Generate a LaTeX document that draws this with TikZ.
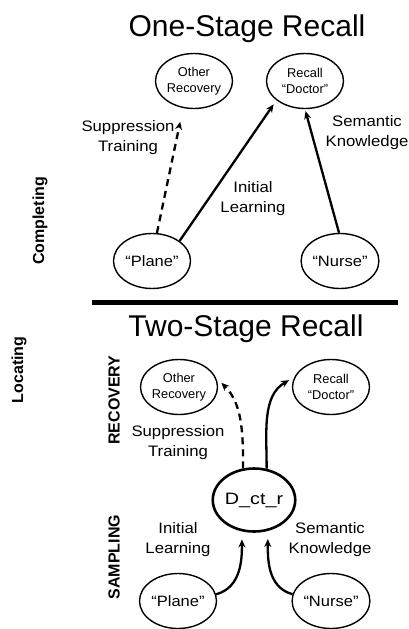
\documentclass[tikz,border=0pt]{standalone}
\usepackage{fontspec}
\setmainfont{Liberation Sans}
\newfontfamily\lblfont[FakeStretch=1.1]{Liberation Sans}
\newfontfamily\ctrfont[FakeStretch=1.2]{Liberation Sans}
\usetikzlibrary{shapes.geometric,arrows.meta}
\tikzset{
  ell/.style={ellipse, draw, line width=1.4pt, inner sep=0pt, minimum width=77pt, minimum height=55pt, align=center},
  smalltxt/.style={font=\fontsize{12.8}{16}\selectfont},
  bigtxt/.style={font=\lblfont\fontsize{15}{19}\selectfont},
  lbl/.style={font=\lblfont\fontsize{15.2}{20}\selectfont, align=center},
  ttl/.style={font=\fontsize{30}{36}\selectfont},
  side/.style={font=\bfseries\fontsize{16}{19}\selectfont, rotate=90},
  arr/.style={line width=2.3pt, -{Stealth[length=8pt,width=7pt]}},
  darr/.style={arr, dash pattern=on 7pt off 5pt},
}
\begin{document}
\begin{tikzpicture}[x=1pt,y=-1pt]
\useasboundingbox (0,0) rectangle (408,629);
% titles
\node[ttl] (t1) at (247,29) {One-Stage Recall};
\node[ttl] (t2) at (246,329) {Two-Stage Recall};
% side labels
\node[side] (comp) at (40,221) {Completing};
\node[side] (loc) at (19,370) {Locating};
\node[side] (rec) at (114,400) {RECOVERY};
\node[side] (samp) at (114,557) {SAMPLING};
% separator
\coordinate (sepL) at (92,302);
\coordinate (sepR) at (398,302);
\draw[line width=5pt] (sepL) -- (sepR);
% top ellipses
\node[ell, smalltxt] (oA) at (194,81) {Other\\Recovery};
\node[ell, smalltxt] (dA) at (305,81) {Recall\\“Doctor”};
\node[ell, bigtxt] (pA) at (152,261) {“Plane”};
\node[ell, bigtxt] (nA) at (340,261) {“Nurse”};
% top labels
\node[lbl] (stA) at (128,138) {Suppression\\Training};
\node[lbl] (ilA) at (253,199) {Initial\\Learning};
\node[lbl] (skA) at (367,133) {Semantic\\Knowledge};
% top arrows
\draw[darr, shorten >=14pt] (pA.80) -- (oA.-112);
\draw[arr, shorten >=5pt] (pA.36) -- (dA.214);
\draw[arr, shorten >=2pt] (nA.92) -- (dA.-90);
% bottom ellipses
\node[ell, smalltxt] (oB) at (179,387) {Other\\Recovery};
\node[ell, smalltxt] (dB) at (331,387) {Recall\\“Doctor”};
\node[ell, line width=2.6pt, minimum width=75pt, minimum height=63pt, font=\ctrfont\fontsize{16.5}{20}\selectfont] (ctr) at (254,500) {D\_ct\_r};
\node[ell, bigtxt] (pB) at (178,601) {“Plane”};
\node[ell, bigtxt] (nB) at (331,601) {“Nurse”};
% bottom labels
\node[lbl] (stB) at (178,443) {Suppression\\Training};
\node[lbl] (ilB) at (178,540) {Initial\\Learning};
\node[lbl] (skB) at (330,540) {Semantic\\Knowledge};
% bottom arrows
\draw[darr, shorten >=8pt] (ctr.109) to[out=90,in=-45] (oB.15);
\draw[arr, shorten >=6pt] (ctr.68) to[out=90,in=-150] (dB.165);
\draw[arr, shorten >=8pt] (pB.10) to[out=15,in=-90] (ctr.-111);
\draw[arr, shorten >=8pt] (nB.170) to[out=165,in=-90] (ctr.-66);
\end{tikzpicture}
\end{document}
